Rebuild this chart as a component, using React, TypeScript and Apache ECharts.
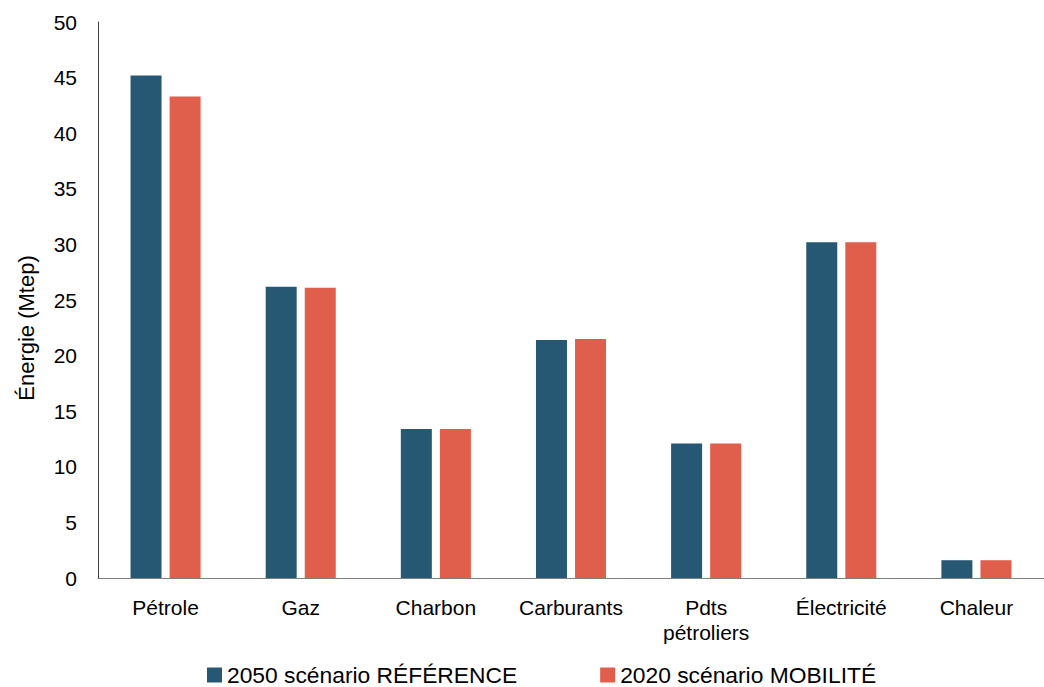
import React, { useEffect, useRef } from "react";
import * as echarts from "echarts";

const categories = ["Pétrole", "Gaz", "Charbon", "Carburants", "Pdts\npétroliers", "Électricité", "Chaleur"];
const seriesNames = ["2050 scénario RÉFÉRENCE", "2020 scénario MOBILITÉ"];
const reference2050 = [45.2, 26.2, 13.4, 21.4, 12.1, 30.2, 1.6];
const mobilite2020 = [43.3, 26.1, 13.4, 21.5, 12.1, 30.2, 1.6];
const yTicks = { min: 0, max: 50, interval: 5 };
const yAxisTitle = "Énergie (Mtep)";

const BLUE = "#265874";
const RED = "#E05E4C";
const FONT = "Liberation Sans, Arial, sans-serif";

export default function App() {
  const ref = useRef<HTMLDivElement>(null);
  useEffect(() => {
    if (!ref.current) return;
    const chart = echarts.init(ref.current, undefined, { renderer: "svg" });
    chart.setOption({
      animation: false,
      backgroundColor: "#ffffff",
      textStyle: { fontFamily: FONT },
      grid: { left: 98, top: 22, width: 955, height: 556, containLabel: false },
      legend: {
        bottom: 0,
        left: 207,
        padding: 0,
        itemWidth: 15,
        itemHeight: 15,
        itemGap: 83,
        icon: "rect",
        textStyle: { fontSize: 22.8, lineHeight: 24, color: "#000", fontFamily: FONT },
        data: seriesNames,
      },
      graphic: [
        {
          type: "text",
          x: 26,
          y: 328,
          rotation: Math.PI / 2,
          style: {
            text: yAxisTitle,
            fontSize: 22,
            fontFamily: FONT,
            fill: "#000",
            align: "center",
            verticalAlign: "middle",
          },
        },
      ],
      xAxis: {
        type: "category",
        data: categories,
        axisLine: { lineStyle: { color: "#7f7f7f", width: 1 } },
        axisTick: { show: false },
        axisLabel: {
          interval: 0,
          fontSize: 21,
          color: "#000",
          margin: 17,
          lineHeight: 25,
          fontFamily: FONT,
        },
      },
      yAxis: {
        type: "value",
        min: yTicks.min,
        max: yTicks.max,
        interval: yTicks.interval,
        axisLine: { show: true, lineStyle: { color: "#404040", width: 1 } },
        axisTick: { show: false },
        splitLine: { show: false },
        axisLabel: { fontSize: 21, color: "#000", margin: 21, fontFamily: FONT },
      },
      series: [
        {
          name: seriesNames[0],
          type: "bar",
          data: reference2050,
          barWidth: 31,
          barGap: "26%",
          itemStyle: { color: BLUE },
        },
        {
          name: seriesNames[1],
          type: "bar",
          data: mobilite2020,
          barWidth: 31,
          barGap: "26%",
          itemStyle: { color: RED },
        },
      ],
    });
    return () => chart.dispose();
  }, []);
  return (
    <div
      ref={ref}
      style={{ position: "fixed", left: 0, top: 0, width: 1044, height: 687, background: "#fff" }}
    />
  );
}
